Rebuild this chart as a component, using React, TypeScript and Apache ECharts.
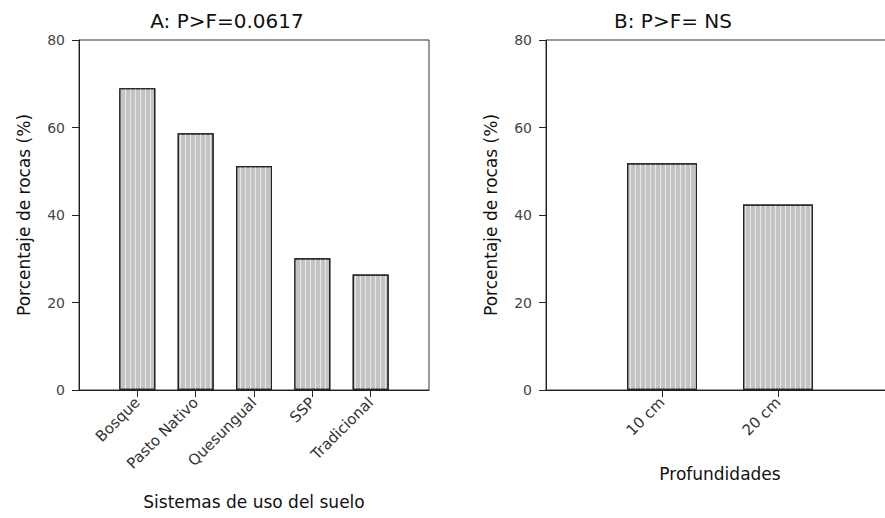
import React, { useEffect, useRef } from "react";
import * as echarts from "echarts";

// Panel A: rock percentage by land-use system
const categoriesA = ["Bosque", "Pasto Nativo", "Quesungual", "SSP", "Tradicional"];
const valuesA = [69.0, 58.7, 51.2, 30.1, 26.4];

// Panel B: rock percentage by sampling depth
const categoriesB = ["10 cm", "20 cm"];
const valuesB = [51.8, 42.4];

const titleA = "A: P>F=0.0617";
const titleB = "B: P>F= NS";
const yName = "Porcentaje de rocas (%)";
const xNameA = "Sistemas de uso del suelo";
const xNameB = "Profundidades";

const yMin = 0;
const yMax = 80;
const yStep = 20;

const FONT = "'DejaVu Sans', 'Liberation Sans', Arial, sans-serif";
const INK = "#222";

// Each category axis gets an empty slot at both ends so the bars sit inside the frame.
const pad = <T,>(arr: T[], blank: T) => [blank, ...arr, blank];

const stripes = {
  symbol: "rect",
  symbolSize: 1,
  dashArrayX: [1, 4],
  dashArrayY: [10, 0],
  color: "rgba(255,255,255,0.6)",
};

const barStyle = {
  color: "#c3c3c3",
  borderColor: INK,
  borderWidth: 1.2,
  decal: stripes,
};

function yAxis(gridIndex: number) {
  return {
    type: "value",
    gridIndex,
    min: yMin,
    max: yMax,
    interval: yStep,
    name: yName,
    nameLocation: "middle",
    nameGap: 47,
    nameTextStyle: { fontFamily: FONT, fontSize: 17, color: "#111" },
    axisLine: { show: true, lineStyle: { color: INK, width: 1 } },
    axisTick: { show: true, length: 7, lineStyle: { color: INK } },
    axisLabel: { fontFamily: FONT, fontSize: 14, color: "#444", margin: 14 },
    splitLine: { show: false },
  };
}

function xAxis(gridIndex: number, cats: string[], name: string, nameGap: number) {
  return {
    type: "category",
    gridIndex,
    data: pad(cats, ""),
    boundaryGap: false,
    name,
    nameLocation: "middle",
    nameGap,
    nameTextStyle: { fontFamily: FONT, fontSize: 17, color: "#111" },
    axisLine: { show: true, lineStyle: { color: INK, width: 1 } },
    axisTick: {
      show: true,
      length: 7,
      interval: (_i: number, v: string) => v !== "",
      lineStyle: { color: INK },
    },
    axisLabel: {
      rotate: 45,
      interval: 0,
      margin: 10,
      fontFamily: FONT,
      fontSize: 15,
      color: "#333",
    },
    splitLine: { show: false },
  };
}

export default function App() {
  const ref = useRef<HTMLDivElement>(null);

  useEffect(() => {
    if (!ref.current) return;
    const chart = echarts.init(ref.current, null, { renderer: "svg" });
    chart.setOption({
      animation: false,
      backgroundColor: "#ffffff",
      grid: [
        {
          left: 79, top: 40, width: 350, height: 350,
          outerBoundsMode: "none",
          show: true, borderColor: "#333", borderWidth: 1,
        },
        {
          // the frame of panel B runs past the right edge of the page
          left: 546, top: 40, width: 348, height: 350,
          outerBoundsMode: "none",
          show: true, borderColor: "#333", borderWidth: 1,
        },
      ],
      xAxis: [xAxis(0, categoriesA, xNameA, 103), xAxis(1, categoriesB, xNameB, 75)],
      yAxis: [yAxis(0), yAxis(1)],
      series: [
        {
          type: "bar",
          xAxisIndex: 0,
          yAxisIndex: 0,
          barWidth: 36,
          data: pad<number | string>(valuesA, "-"),
          itemStyle: barStyle,
        },
        {
          type: "bar",
          xAxisIndex: 1,
          yAxisIndex: 1,
          barWidth: 70,
          data: pad<number | string>(valuesB, "-"),
          itemStyle: barStyle,
        },
      ],
      graphic: [
        {
          type: "text",
          x: 227,
          y: 21,
          style: {
            text: titleA,
            textAlign: "center",
            textVerticalAlign: "middle",
            fontFamily: FONT,
            fontSize: 20,
            fill: "#111",
          },
        },
        {
          type: "text",
          x: 673,
          y: 21,
          style: {
            text: titleB,
            textAlign: "center",
            textVerticalAlign: "middle",
            fontFamily: FONT,
            fontSize: 20,
            fill: "#111",
          },
        },
      ],
    });
    return () => chart.dispose();
  }, []);

  return (
    <div
      ref={ref}
      style={{ position: "absolute", left: 0, top: 0, width: 885, height: 518, background: "#fff" }}
    />
  );
}
